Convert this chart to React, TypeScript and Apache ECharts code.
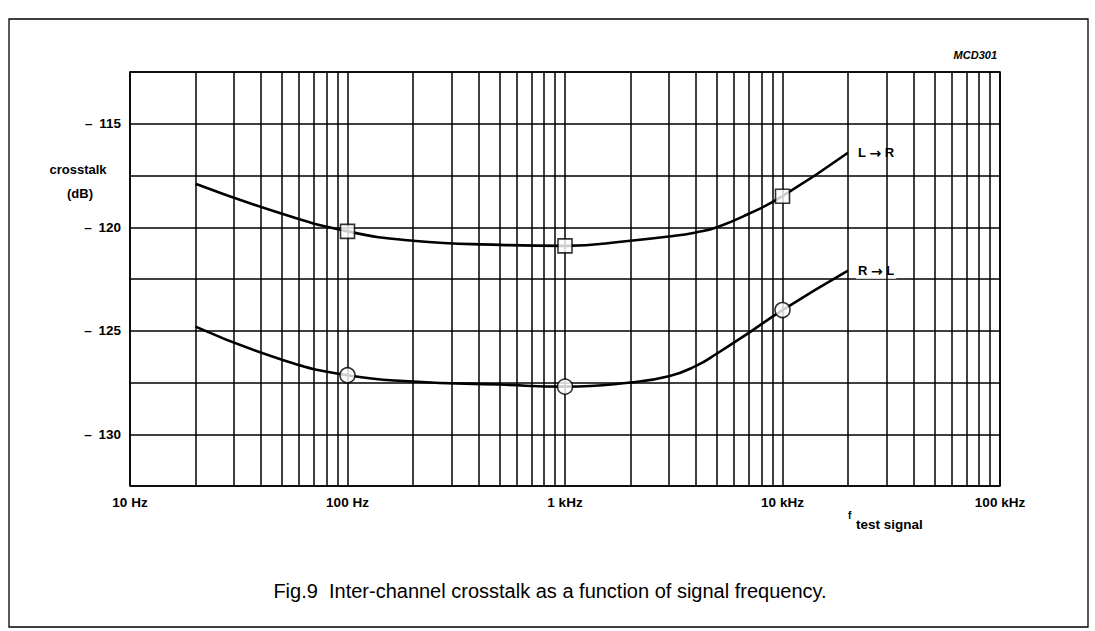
import React, { useEffect, useRef } from "react";
import * as echarts from "echarts";

// ---- data ----
const decadeStarts = [10, 100, 1000, 10000];
const minorMultipliers = [2, 3, 4, 5, 6, 7, 8, 9];
const xTickValues = [10, 100, 1000, 10000, 100000];
const xTickLabels = ["10 Hz", "100 Hz", "1 kHz", "10 kHz", "100 kHz"];

const curveFreq = [20, 50, 100, 200, 500, 1000, 2000, 3000, 4000, 5000, 7000, 10000, 20000];
const lrDb = [-117.9, -119.35, -120.2, -120.65, -120.85, -120.9, -120.65, -120.45, -120.25, -120.0, -119.35, -118.5, -116.4];
const rlDb = [-124.8, -126.4, -127.15, -127.45, -127.6, -127.7, -127.5, -127.2, -126.7, -126.1, -125.1, -124.0, -122.1];

const markerFreq = [100, 1000, 10000];
const lrMarkerDb = [-120.2, -120.9, -118.5];
const rlMarkerDb = [-127.15, -127.7, -124.0];

const FONT = "'Liberation Sans', Arial, Helvetica, sans-serif";

export default function App() {
  const ref = useRef<HTMLDivElement>(null);

  useEffect(() => {
    if (!ref.current) return;
    const chart = echarts.init(ref.current, null, { renderer: "svg" });

    const minorLines: any[] = [];
    decadeStarts.forEach((d) =>
      minorMultipliers.forEach((m) => minorLines.push({ xAxis: d * m }))
    );

    const labelFor = (v: number) => {
      const i = xTickValues.findIndex((t) => Math.abs(t - v) / t < 1e-6);
      return i >= 0 ? xTickLabels[i] : "";
    };

    const endLabel = (text: string) => ({
      show: true,
      formatter: text,
      distance: 8,
      color: "#000",
      fontSize: 13,
      fontWeight: "bold",
      fontFamily: FONT,
      backgroundColor: "#fff",
      padding: [1, 2],
      rich: {
        a: { fontFamily: "'DejaVu Sans', sans-serif", fontSize: 14, fontWeight: "bold", color: "#000" },
      },
    });

    chart.setOption({
      animation: false,
      backgroundColor: "#ffffff",
      textStyle: { fontFamily: FONT },
      grid: {
        left: 130,
        right: 95,
        top: 72,
        bottom: 145,
        show: true,
        borderColor: "#000",
        borderWidth: 1.6,
        backgroundColor: "transparent",
      },
      xAxis: {
        type: "log",
        logBase: 10,
        min: 10,
        max: 100000,
        splitNumber: 4,
        axisLine: { show: false },
        axisTick: { show: false },
        axisLabel: {
          show: true,
          showMinLabel: true,
          showMaxLabel: true,
          margin: 9,
          color: "#000",
          fontSize: 13.5,
          fontWeight: "bold",
          fontFamily: FONT,
          formatter: (v: number) => labelFor(v),
        },
        splitLine: { show: true, lineStyle: { color: "#000", width: 1.5 } },
      },
      yAxis: {
        type: "value",
        min: -132.5,
        max: -112.5,
        interval: 2.5,
        axisLine: { show: false },
        axisTick: { show: false },
        axisLabel: {
          margin: 9,
          color: "#000",
          fontSize: 13.5,
          fontWeight: "bold",
          fontFamily: FONT,
          formatter: (v: number) =>
            Math.abs(v % 5) < 1e-6 ? "\u2013\u2002" + Math.abs(v) : "",
        },
        splitLine: { show: true, lineStyle: { color: "#000", width: 1.5 } },
      },
      series: [
        {
          type: "line",
          name: "minor grid",
          data: [],
          silent: true,
          markLine: {
            silent: true,
            symbol: ["none", "none"],
            label: { show: false },
            lineStyle: { color: "#000", width: 1.5, type: "solid" },
            data: minorLines,
          },
        },
        {
          type: "line",
          name: "L → R",
          data: curveFreq.map((f, i) => [f, lrDb[i]]),
          smooth: 0.5,
          showSymbol: false,
          lineStyle: { color: "#000", width: 2.6 },
          z: 3,
          endLabel: endLabel("L {a|\u2192} R"),
        },
        {
          type: "line",
          name: "R → L",
          data: curveFreq.map((f, i) => [f, rlDb[i]]),
          smooth: 0.5,
          showSymbol: false,
          lineStyle: { color: "#000", width: 2.6 },
          z: 3,
          endLabel: endLabel("R {a|\u2192} L"),
        },
        {
          type: "scatter",
          name: "L → R points",
          data: markerFreq.map((f, i) => [f, lrMarkerDb[i]]),
          symbol: "rect",
          symbolSize: 14,
          itemStyle: { color: "#fff", borderColor: "#000", borderWidth: 1.6 },
          z: 5,
        },
        {
          type: "scatter",
          name: "R → L points",
          data: markerFreq.map((f, i) => [f, rlMarkerDb[i]]),
          symbol: "circle",
          symbolSize: 15,
          itemStyle: { color: "#fff", borderColor: "#000", borderWidth: 1.6 },
          z: 5,
        },
      ],
      graphic: [
        {
          type: "rect",
          shape: { x: 9, y: 19, width: 1079, height: 608 },
          style: { fill: "none", stroke: "#000", lineWidth: 1.3 },
          silent: true,
        },
        {
          type: "text",
          x: 78,
          y: 169,
          style: {
            text: "crosstalk",
            fill: "#000",
            font: `bold 13px ${FONT}`,
            textAlign: "center",
            textVerticalAlign: "middle",
          },
        },
        {
          type: "text",
          x: 80,
          y: 193,
          style: {
            text: "(dB)",
            fill: "#000",
            font: `bold 13px ${FONT}`,
            textAlign: "center",
            textVerticalAlign: "middle",
          },
        },
        {
          type: "text",
          x: 997,
          y: 55,
          style: {
            text: "MCD301",
            fill: "#000",
            font: `italic bold 11px ${FONT}`,
            textAlign: "right",
            textVerticalAlign: "middle",
          },
        },
        {
          type: "text",
          x: 848,
          y: 515,
          style: {
            text: "f",
            fill: "#000",
            font: `bold 10px ${FONT}`,
            textAlign: "left",
            textVerticalAlign: "middle",
          },
        },
        {
          type: "text",
          x: 856,
          y: 524,
          style: {
            text: "test signal",
            fill: "#000",
            font: `bold 13.5px ${FONT}`,
            textAlign: "left",
            textVerticalAlign: "middle",
          },
        },
        {
          type: "text",
          x: 550,
          y: 591,
          style: {
            text: "Fig.9  Inter-channel crosstalk as a function of signal frequency.",
            fill: "#000",
            font: `20px ${FONT}`,
            textAlign: "center",
            textVerticalAlign: "middle",
          },
        },
      ],
    });

    return () => chart.dispose();
  }, []);

  return (
    <div
      ref={ref}
      style={{ position: "fixed", left: 0, top: 0, width: 1095, height: 631 }}
    />
  );
}
